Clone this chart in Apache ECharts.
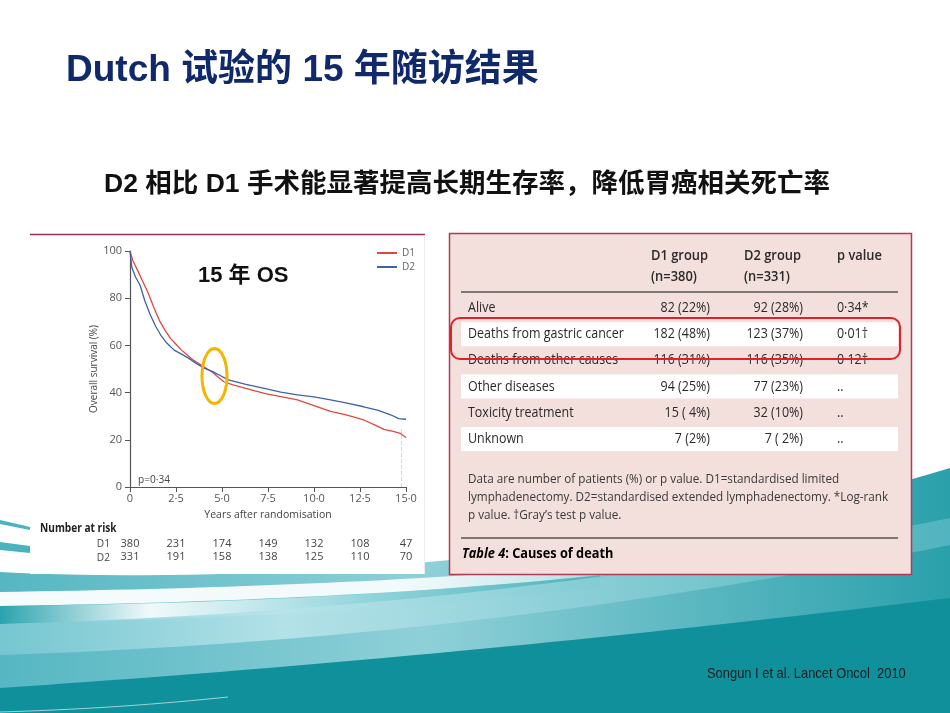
<!DOCTYPE html>
<html><head><meta charset="utf-8">
<script src="https://cdn.jsdelivr.net/npm/echarts@6/dist/echarts.min.js"></script>
<style>html,body{margin:0;padding:0;background:#fff}#c{width:950px;height:713px}</style>
</head><body><div id="c"></div>
<script>
// ---------- data ----------
const seriesNames = ['D1', 'D2'];
const d1Years = [0,0.15,0.4,0.7,1.0,1.3,1.6,1.9,2.2,2.5,2.8,3.1,3.4,3.8,4.2,4.5,4.8,5.1,5.6,6.3,7.3,8.2,9.1,10.0,10.9,11.8,12.7,13.3,13.8,14.3,14.7,15.0];
const d1Survival = [100,96,92,87,82,76,70.5,66.5,63,60.5,58,56,54,52,50,48.5,46.5,44.6,43.3,41.8,39.7,38.3,36.9,34.5,32,30.5,28.4,26.3,24.4,23.6,22.7,21];
const d2Years = [0,0.1,0.3,0.55,0.8,1.1,1.4,1.7,2.0,2.4,2.8,3.2,3.6,4.0,4.5,5.0,5.4,6.3,7.3,8.2,9.1,10.0,10.9,11.8,12.7,13.5,14.2,14.6,15.0];
const d2Survival = [100,93,89,85.5,79,73,68,64,61,58,56.3,54.5,52.4,50.5,48.9,46.8,45.3,43.5,41.8,40.2,39,38.2,36.9,35.5,34,32.5,30.5,29,28.7];
const xTickLabels = ['0','2·5','5·0','7·5','10·0','12·5','15·0'];
const riskD1 = [380,231,174,149,132,108,47];
const riskD2 = [331,191,158,138,125,110,70];
const censorYear = 14.73;
const censorRange = [0, 25];
const pValueText = 'p=0·34';

const tableHeaderD1 = ['D1 group', '(n=380)'];
const tableHeaderD2 = ['D2 group', '(n=331)'];
const tableHeaderP = ['p value'];
const tableRows = ['Alive','Deaths from gastric cancer','Deaths from other causes','Other diseases','Toxicity treatment','Unknown'];
const tableD1 = ['82 (22%)','182 (48%)','116 (31%)','94 (25%)','15 ( 4%)','7 (2%)'];
const tableD2 = ['92 (28%)','123 (37%)','116 (35%)','77 (23%)','32 (10%)','7 ( 2%)'];
const tableP = ['0·34*','0·01†','0·12†','..','..','..'];
const footnote = [
  'Data are number of patients (%) or p value. D1=standardised limited',
  'lymphadenectomy. D2=standardised extended lymphadenectomy. *Log-rank',
  'p value. †Gray’s test p value.'
];
const tableCaption = ['Table 4', ': Causes of death'];

const titleText = 'Dutch 试验的 15 年随访结果';
const subtitleText = 'D2 相比 D1 手术能显著提高长期生存率，降低胃癌相关死亡率';
const osLabel = '15 年 OS';
const citation = 'Songun I et al. Lancet Oncol  2010';

// ---------- styles ----------
const BODY = '"Open Sans","Liberation Sans",sans-serif';
const ARIAL = '"Liberation Sans",Arial,sans-serif';
const HEAD = '"Liberation Sans","Noto Sans CJK SC",sans-serif';
const RED = '#e2473d', BLUE = '#3c63a5';

function lin(stops){ return {type:'linear', x:0, y:0, x2:1, y2:0, colorStops:stops}; }
function bez(p0,p1,p2,p3,n){
  const pts=[];
  for(let i=0;i<=n;i++){const t=i/n,u=1-t;
    pts.push([u*u*u*p0[0]+3*u*u*t*p1[0]+3*u*t*t*p2[0]+t*t*t*p3[0], u*u*u*p0[1]+3*u*u*t*p1[1]+3*u*t*t*p2[1]+t*t*t*p3[1]]);}
  return pts;
}
function band(top, bottom){ return top.concat(bottom.slice().reverse()); }
function ellipsePts(cx,cy,rx,ry,n){const p=[];for(let i=0;i<n;i++){const a=i/n*Math.PI*2;p.push([cx+rx*Math.cos(a),cy+ry*Math.sin(a)]);}return p;}
function txt(x,y,text,font,fill,align,sx,z){
  return {type:'text', x:x, y:y, scaleX:sx||1, z:z||5,
    style:{text:text, x:0, y:0, font:font, fill:fill, textAlign:align||'left', textVerticalAlign:'middle'}};
}

const chart = echarts.init(document.getElementById('c'));

const g = [];
// background waves
g.push({type:'polygon', z:-30, shape:{points: bez([0,572],[250,585],[650,560],[950,468],40).concat([[950,713],[0,713]])},
  style:{fill:lin([{offset:0,color:'#55b7c2'},{offset:0.45,color:'#8fd0d8'},{offset:1,color:'#2aa0ab'}])}});
g.push({type:'polygon', z:-29, shape:{points: band(bez([0,592],[250,588],[500,580],[800,545],40), bez([0,606],[250,602],[500,592],[800,553],40))},
  style:{fill:lin([{offset:0,color:'rgba(255,255,255,0.95)'},{offset:0.5,color:'rgba(255,255,255,0.9)'},{offset:1,color:'rgba(255,255,255,0)'}])}});
g.push({type:'polygon', z:-29, shape:{points: band(bez([0,606],[200,604],[400,596],[600,575],30), bez([0,624],[200,620],[400,610],[600,588],30))},
  style:{fill:lin([{offset:0,color:'#2aa3ae'},{offset:0.25,color:'rgba(255,255,255,0.9)'},{offset:0.6,color:'rgba(150,215,222,0.9)'},{offset:1,color:'rgba(60,170,180,0.6)'}])}});
g.push({type:'polygon', z:-29, shape:{points: band(bez([0,624],[300,615],[600,588],[950,518],40), bez([0,655],[300,645],[600,615],[950,545],40))},
  style:{fill:lin([{offset:0,color:'rgba(120,200,210,0.9)'},{offset:0.3,color:'rgba(185,228,234,0.9)'},{offset:1,color:'rgba(90,185,195,0.8)'}])}});
g.push({type:'polygon', z:-28, shape:{points: bez([0,688],[300,668],[600,640],[950,598],40).concat([[950,713],[0,713]])},
  style:{fill:'#10909b'}});
g.push({type:'polyline', z:-27, shape:{points: bez([0,712],[100,709],[170,703],[228,697],20)},
  style:{stroke:'rgba(255,255,255,0.6)', lineWidth:1}});
g.push({type:'polygon', z:-27, shape:{points:[[0,520],[30,527],[30,530],[0,524]]}, style:{fill:'#4bb3bf'}});
g.push({type:'polygon', z:-27, shape:{points:[[0,542],[30,546],[30,553],[0,550]]}, style:{fill:'#4bb3bf'}});
// KM panel
g.push({type:'rect', z:-10, shape:{x:30,y:234,width:395,height:340}, style:{fill:'#fff'}});
g.push({type:'line', z:-9, shape:{x1:30,y1:234.5,x2:425,y2:234.5}, style:{stroke:'#9b2d55', lineWidth:1.5}});
g.push({type:'line', z:-9, shape:{x1:424.5,y1:236,x2:424.5,y2:574}, style:{stroke:'#ececec', lineWidth:1}});
// table panel
g.push({type:'rect', z:-10, shape:{x:449.5,y:233.5,width:462,height:341}, style:{fill:'#f3dfdb', stroke:'#b23a55', lineWidth:1.5}});
const rowY0 = 308, rowH = 26.2, SX = 0.89, TC = '#2b2b2b';
tableRows.forEach((r,i)=>{
  const cy = rowY0 + i*rowH;
  if (i % 2 === 1) g.push({type:'rect', z:-8, shape:{x:461,y:cy-12,width:437,height:24}, style:{fill:'#fff'}});
  g.push(txt(468, cy, r, '14px '+BODY, TC, 'left', SX));
  g.push(txt(710, cy, tableD1[i], '14px '+BODY, TC, 'right', SX));
  g.push(txt(803, cy, tableD2[i], '14px '+BODY, TC, 'right', SX));
  g.push(txt(837, cy, tableP[i], '14px '+BODY, TC, 'left', SX));
});
tableHeaderD1.forEach((t,i)=>g.push(txt(651, 256+i*21, t, '600 15px '+BODY, '#2a2a2a', 'left', 0.86)));
tableHeaderD2.forEach((t,i)=>g.push(txt(744, 256+i*21, t, '600 15px '+BODY, '#2a2a2a', 'left', 0.86)));
tableHeaderP.forEach((t,i)=>g.push(txt(837, 256+i*21, t, '600 15px '+BODY, '#2a2a2a', 'left', 0.86)));
g.push({type:'line', z:5, shape:{x1:461,y1:292,x2:898,y2:292}, style:{stroke:'#555', lineWidth:1.5}});
footnote.forEach((t,i)=>g.push(txt(468, 479+i*18, t, '13px '+BODY, '#3a3a3a', 'left', 0.9)));
g.push({type:'line', z:5, shape:{x1:461,y1:538,x2:898,y2:538}, style:{stroke:'#555', lineWidth:1.5}});
g.push({type:'text', z:5, x:462, y:554, scaleX:0.88, style:{text:'{a|'+tableCaption[0]+'}{b|'+tableCaption[1]+'}', x:0, y:0, textAlign:'left', textVerticalAlign:'middle',
  rich:{a:{fontFamily:BODY, fontSize:14.5, fontStyle:'italic', fontWeight:'bold', color:'#333'}, b:{fontFamily:BODY, fontSize:14.5, fontWeight:'bold', color:'#333'}}}});
// highlight box on table
g.push({type:'rect', z:20, shape:{x:451,y:318,width:449,height:41,r:9}, style:{fill:null, stroke:'#e3202a', lineWidth:2}});
// titles
g.push(txt(66, 71, titleText, 'bold 37px '+HEAD, '#10296b', 'left'));
g.push(txt(467, 185, subtitleText, 'bold 26.5px '+HEAD, '#111', 'center'));
g.push(txt(198, 276, osLabel, 'bold 22px '+HEAD, '#111', 'left', 1, 20));
g.push(txt(707, 674, citation, '14.5px '+ARIAL, '#1d1d1d', 'left', 0.89));
// KM annotations
g.push({type:'polygon', z:20, shape:{points:ellipsePts(214.5,376,12.5,27.5,60)}, style:{fill:null, stroke:'#f4b400', lineWidth:3}});
g.push(txt(138, 480, pValueText, '11px '+BODY, '#444', 'left', 0.92));
g.push(txt(40, 529, 'Number at risk', 'bold 11.5px '+BODY, '#222', 'left', 0.88));
seriesNames.forEach((n,i)=>g.push(txt(110, 544+i*14, n, '11px '+BODY, '#444', 'right', 0.92)));

const tickIdx = v => Math.round(v/2.5);
const riskAxis = (arr, off) => ({
  type:'value', gridIndex:0, position:'bottom', offset:off, min:0, max:15, interval:2.5,
  axisLine:{show:false}, axisTick:{show:false}, splitLine:{show:false},
  axisLabel:{margin:0, fontSize:11, fontFamily:BODY, color:'#444', showMinLabel:true, showMaxLabel:true,
    formatter:v=>String(arr[tickIdx(v)])}
});

chart.setOption({
  animation:false,
  backgroundColor:'#ffffff',
  graphic:{elements:g},
  legend:{orient:'vertical', left:372, top:243, itemWidth:20, itemHeight:2, itemGap:4, icon:'rect',
    textStyle:{fontSize:10, fontFamily:BODY, color:'#666'}, data:seriesNames},
  grid:{left:130, right:544, top:251, bottom:226, containLabel:false},
  xAxis:[{
    type:'value', min:0, max:15, interval:2.5,
    name:'Years after randomisation', nameLocation:'middle', nameGap:23,
    nameTextStyle:{fontSize:10.5, fontFamily:BODY, color:'#444'},
    axisLine:{lineStyle:{color:'#555', width:1.2}},
    axisTick:{length:5, lineStyle:{color:'#555'}},
    splitLine:{show:false},
    axisLabel:{fontSize:11, fontFamily:BODY, color:'#555', margin:6, showMinLabel:true, showMaxLabel:true,
      formatter:v=>xTickLabels[tickIdx(v)]}
  }, riskAxis(riskD1, 51), riskAxis(riskD2, 64)],
  yAxis:{
    type:'value', min:0, max:100, interval:20,
    name:'Overall survival (%)', nameLocation:'middle', nameGap:27,
    nameTextStyle:{fontSize:10, fontFamily:BODY, color:'#444'},
    axisLine:{show:true, lineStyle:{color:'#555', width:1.2}},
    axisTick:{show:true, length:5, lineStyle:{color:'#555'}},
    splitLine:{show:false},
    axisLabel:{fontSize:11, fontFamily:BODY, color:'#555', margin:8}
  },
  series:[
    {name:seriesNames[0], type:'line', xAxisIndex:0, showSymbol:false, symbol:'none',
     data:d1Years.map((t,i)=>[t,d1Survival[i]]), lineStyle:{color:RED, width:1.3}, itemStyle:{color:RED},
     markLine:{silent:true, symbol:'none', label:{show:false}, lineStyle:{color:'#e6d8c6', type:'dashed', width:1},
       data:[[{coord:[censorYear,censorRange[0]]},{coord:[censorYear,censorRange[1]]}]]}},
    {name:seriesNames[1], type:'line', xAxisIndex:0, showSymbol:false, symbol:'none',
     data:d2Years.map((t,i)=>[t,d2Survival[i]]), lineStyle:{color:BLUE, width:1.3}, itemStyle:{color:BLUE}}
  ]
});
</script>
</body></html>
